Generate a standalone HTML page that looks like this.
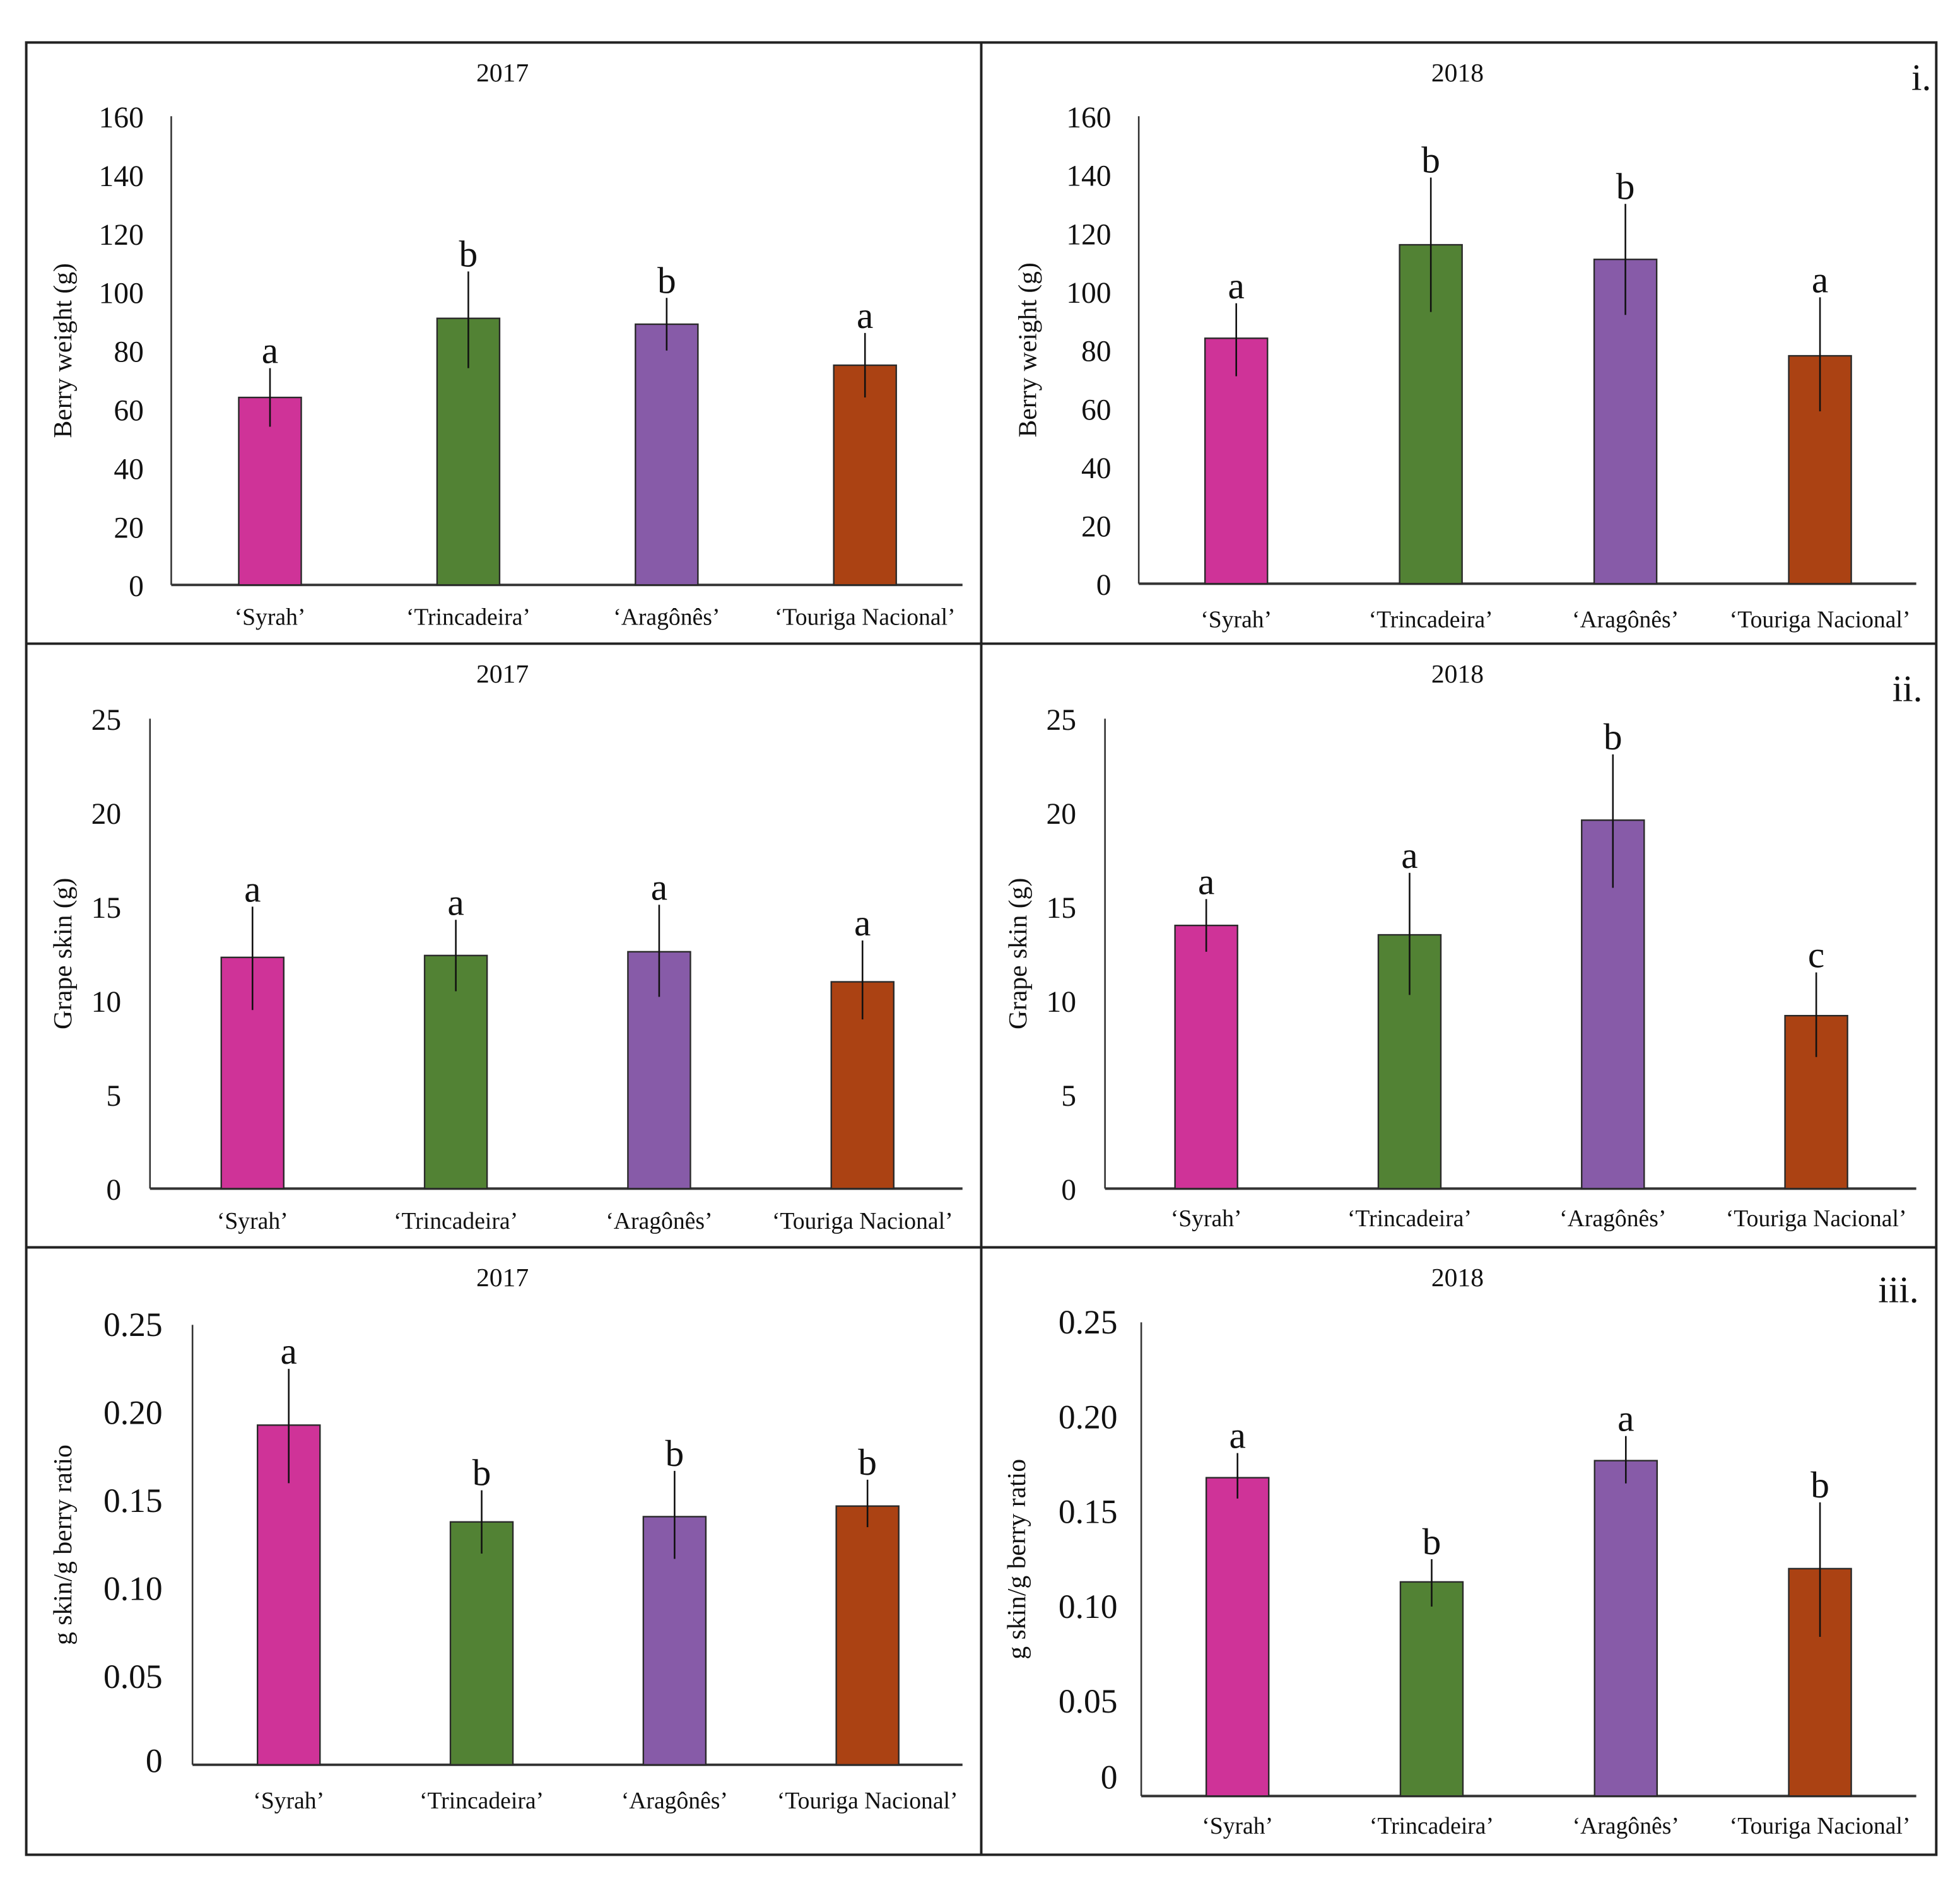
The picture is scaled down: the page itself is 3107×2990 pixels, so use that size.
<!DOCTYPE html>
<html><head><meta charset="utf-8"><style>
html,body{margin:0;padding:0;background:#fff}
svg{display:block}
text{font-family:"Liberation Serif","DejaVu Serif",serif;fill:#111}
</style></head><body>
<svg id="fig" xmlns="http://www.w3.org/2000/svg" width="3107" height="2990" viewBox="0 0 1568 1509" preserveAspectRatio="none" font-family="Liberation Serif, serif">
<rect x="21" y="34" width="1528" height="1450" fill="none" stroke="#222" stroke-width="2"/>
<line x1="785" y1="34" x2="785" y2="1484" stroke="#222" stroke-width="2"/>
<line x1="21" y1="515" x2="1549" y2="515" stroke="#222" stroke-width="2"/>
<line x1="21" y1="998" x2="1549" y2="998" stroke="#222" stroke-width="2"/>
<text x="1545" y="72" font-size="30" text-anchor="end" font-family="Liberation Serif, serif">i.</text>
<text x="1538" y="561" font-size="30" text-anchor="end" font-family="Liberation Serif, serif">ii.</text>
<text x="1535" y="1042" font-size="30" text-anchor="end" font-family="Liberation Serif, serif">iii.</text>
</svg>
<script>
const categories = ["\u2018Syrah\u2019","\u2018Trincadeira\u2019","\u2018Arag\u00f4n\u00eas\u2019","\u2018Touriga Nacional\u2019"];
const colors = ["#cf3398","#528234","#875ba8","#ab4213"];

const berry2017 = [64, 91, 89, 75];
const berry2017Lo = [54, 74, 80, 64];
const berry2017Hi = [74, 107, 98, 86];
const berry2017Letters = ["a","b","b","a"];

const berry2018 = [84, 116, 111, 78];
const berry2018Lo = [71, 93, 92, 59];
const berry2018Hi = [96, 139, 130, 98];
const berry2018Letters = ["a","b","b","a"];

const skin2017 = [12.3, 12.4, 12.6, 11.0];
const skin2017Lo = [9.5, 10.5, 10.2, 9.0];
const skin2017Hi = [15.0, 14.3, 15.1, 13.2];
const skin2017Letters = ["a","a","a","a"];

const skin2018 = [14.0, 13.5, 19.6, 9.2];
const skin2018Lo = [12.6, 10.3, 16.0, 7.0];
const skin2018Hi = [15.4, 16.8, 23.1, 11.5];
const skin2018Letters = ["a","a","b","c"];

const ratio2017 = [0.193, 0.138, 0.141, 0.147];
const ratio2017Lo = [0.160, 0.120, 0.117, 0.135];
const ratio2017Hi = [0.225, 0.156, 0.167, 0.162];
const ratio2017Letters = ["a","b","b","b"];

const ratio2018 = [0.168, 0.113, 0.177, 0.120];
const ratio2018Lo = [0.157, 0.100, 0.165, 0.084];
const ratio2018Hi = [0.181, 0.125, 0.190, 0.155];
const ratio2018Letters = ["a","b","a","b"];

const berryTicks = ["0","20","40","60","80","100","120","140","160"];
const skinTicks = ["0","5","10","15","20","25"];
const ratioTicks = ["0","0.05","0.10","0.15","0.20","0.25"];

const NS = "http://www.w3.org/2000/svg";
const FONT = "Liberation Serif, serif";
const svg = document.getElementById("fig");
function mk(tag, attrs, parent){
  const e = document.createElementNS(NS, tag);
  for (const k in attrs) e.setAttribute(k, attrs[k]);
  if (tag === "text") e.setAttribute("font-family", FONT);
  (parent||svg).appendChild(e);
  return e;
}

function panel(p){
  const g = mk("g", {});
  
  
  const y = v => p.y0 - (v / p.max) * (p.y0 - p.yTop);
  const t = mk("text", {x:p.titleX, y:p.titleY, "font-size":21, "text-anchor":"middle"}, g);
  t.textContent = p.title;
  
  
  const yt = mk("text", {x:0, y:0, "font-size":21, "text-anchor":"middle", transform:`translate(${p.ytX},${(p.yTop+p.y0)/2}) rotate(-90)`}, g);
  yt.textContent = p.ylabel;
  
  
  p.ticks.forEach((lab, i) => {
    const v = (i / (p.ticks.length - 1)) * p.max;
    const tx = mk("text", {x:p.tickX, y:y(v) + 9 + (i===0 ? p.zeroOff : 0), "font-size":p.tickFs, "text-anchor":"end"}, g);
    tx.textContent = lab;
    
    
  });
  const ax = mk("line", {x1:p.axX, y1:p.yTop, x2:p.axX, y2:p.y0, stroke:"#333", "stroke-width":1.3}, g);
  
  
  const bl = mk("line", {x1:p.axX, y1:p.y0, x2:p.axEnd, y2:p.y0, stroke:"#333", "stroke-width":2}, g);
  
  
  const step = (p.c3 - p.c0) / 3;
  p.vals.forEach((v, i) => {
    const cx = p.c0 + i * step;
    const r = mk("rect", {x:cx - 25, y:y(v), width:50, height:p.y0 - y(v), fill:colors[i], stroke:"#2a2a2a", "stroke-width":1.2}, g);
    
    
    const e = mk("line", {x1:cx, y1:y(p.hi[i]), x2:cx, y2:y(p.lo[i]), stroke:"#111", "stroke-width":1.3}, g);
    
    
    const l = mk("text", {x:cx, y:y(p.hi[i]) - 4, "font-size":30, "text-anchor":"middle"}, g);
    l.textContent = p.letters[i];
    
    
    const xl = mk("text", {x:cx, y:p.xlY, "font-size":19, "text-anchor":"middle"}, g);
    xl.textContent = categories[i];
    
    
  });
}

panel({name:"berry-2017-chart", title:"2017", titleX:402, titleY:65, ylabel:"Berry weight (g)", ytX:57, tickX:115, tickFs:24, zeroOff:0,
  axX:137, axEnd:770, yTop:93, y0:468, max:160, ticks:berryTicks, c0:216, c3:692, xlY:500,
  vals:berry2017, lo:berry2017Lo, hi:berry2017Hi, letters:berry2017Letters});
panel({name:"berry-2018-chart", title:"2018", titleX:1166, titleY:65, ylabel:"Berry weight (g)", ytX:829, tickX:889, tickFs:24, zeroOff:0,
  axX:911, axEnd:1533, yTop:93, y0:467, max:160, ticks:berryTicks, c0:989, c3:1456, xlY:502,
  vals:berry2018, lo:berry2018Lo, hi:berry2018Hi, letters:berry2018Letters});
panel({name:"skin-2017-chart", title:"2017", titleX:402, titleY:546, ylabel:"Grape skin (g)", ytX:57, tickX:97, tickFs:24, zeroOff:0,
  axX:120, axEnd:770, yTop:575, y0:951, max:25, ticks:skinTicks, c0:202, c3:690, xlY:983,
  vals:skin2017, lo:skin2017Lo, hi:skin2017Hi, letters:skin2017Letters});
panel({name:"skin-2018-chart", title:"2018", titleX:1166, titleY:546, ylabel:"Grape skin (g)", ytX:821, tickX:861, tickFs:24, zeroOff:0,
  axX:884, axEnd:1533, yTop:575, y0:951, max:25, ticks:skinTicks, c0:965, c3:1453, xlY:981,
  vals:skin2018, lo:skin2018Lo, hi:skin2018Hi, letters:skin2018Letters});
panel({name:"ratio-2017-chart", title:"2017", titleX:402, titleY:1029, ylabel:"g skin/g berry ratio", ytX:57, tickX:130, tickFs:27, zeroOff:-3,
  axX:154, axEnd:770, yTop:1060, y0:1412, max:0.25, ticks:ratioTicks, c0:231, c3:694, xlY:1447,
  vals:ratio2017, lo:ratio2017Lo, hi:ratio2017Hi, letters:ratio2017Letters});
panel({name:"ratio-2018-chart", title:"2018", titleX:1166, titleY:1029, ylabel:"g skin/g berry ratio", ytX:820, tickX:894, tickFs:27, zeroOff:-15,
  axX:913, axEnd:1533, yTop:1058, y0:1437, max:0.25, ticks:ratioTicks, c0:990, c3:1456, xlY:1467,
  vals:ratio2018, lo:ratio2018Lo, hi:ratio2018Hi, letters:ratio2018Letters});
</script>
</body></html>
